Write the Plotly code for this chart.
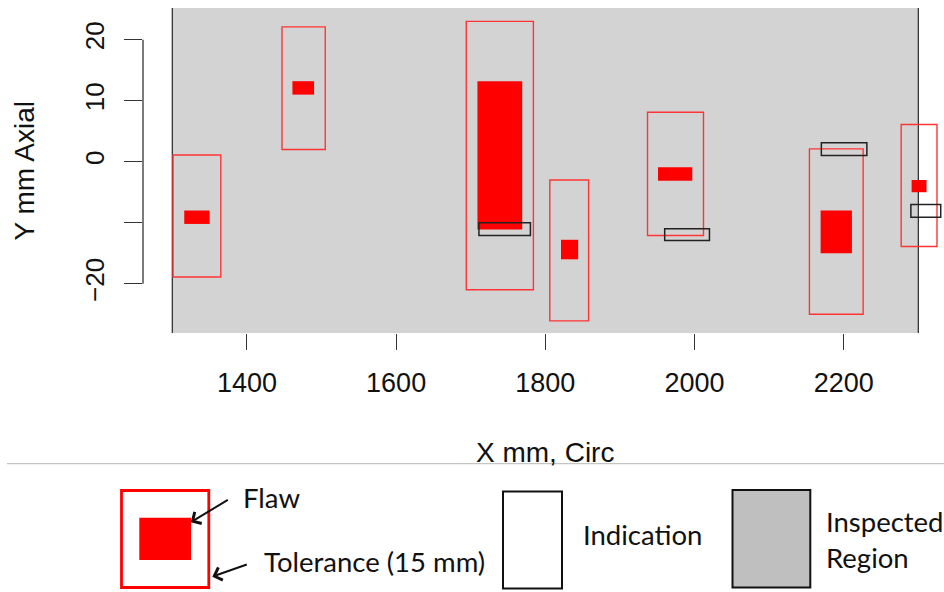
import plotly.graph_objects as go

# Inspected region along the circumference (mm)
region_x = [1300, 2300]

# Flaws (mm): circumferential extent x0..x1, axial extent y0..y1
flaw_x0 = [1316, 1461, 1709, 1821, 1951, 2169, 2291]
flaw_x1 = [1350, 1490, 1769, 1844, 1997, 2211, 2311]
flaw_y0 = [-10.2, 11.0, -11.1, -16.0, -3.1, -15.0, -5.0]
flaw_y1 = [-8.0, 13.2, 13.2, -12.8, -0.9, -8.0, -3.0]

# Tolerance windows around each flaw (mm)
tol_x0 = [1301, 1447, 1694, 1806, 1937, 2154, 2277]
tol_x1 = [1365, 1505, 1784, 1858, 2012, 2226, 2325]
tol_y0 = [-18.9, 2.0, -21.0, -26.1, -12.1, -25.0, -13.9]
tol_y1 = [1.1, 22.1, 23.0, -3.0, 8.1, 2.1, 6.1]

# Reported indications (mm)
ind_x0 = [1711, 1960, 2170, 2290]
ind_x1 = [1780, 2020, 2231, 2330]
ind_y0 = [-12.1, -12.9, 1.0, -9.1]
ind_y1 = [-10.0, -11.0, 3.1, -7.0]

x_ticks = [1400, 1600, 1800, 2000, 2200]
y_ticks = [-20, -10, 0, 10, 20]
y_tick_text = ["\u221220", "", "0", "10", "20"]

# Page geometry (pixels)
W, H = 944, 592
ML, MT, MB = 143, 8, 259
PW, PH = W - ML, H - MT - MB


def px_x(p):
    return (p - ML) / PW


def px_y(p):
    return (MT + PH - p) / PH


AX_FONT = "Liberation Sans, Arial, sans-serif"
LEG_FONT = "Lato, Calibri, sans-serif"
AX_COL = "#333333"

shapes = []

# Inspected region: grey band with dark edges
shapes.append(dict(type="rect", xref="x", yref="paper", x0=region_x[0], x1=region_x[1],
                   y0=0, y1=1, fillcolor="#D3D3D3", line=dict(width=0), layer="below"))
for xv in region_x:
    shapes.append(dict(type="line", xref="x", yref="paper", x0=xv, x1=xv, y0=0, y1=1,
                       line=dict(color=AX_COL, width=1.3)))

# Tolerance windows
for a, b, c, d in zip(tol_x0, tol_x1, tol_y0, tol_y1):
    shapes.append(dict(type="rect", xref="x", yref="y", x0=a, x1=b, y0=c, y1=d,
                       fillcolor="rgba(0,0,0,0)", line=dict(color="#FF3535", width=1.4)))

# Flaws
for a, b, c, d in zip(flaw_x0, flaw_x1, flaw_y0, flaw_y1):
    shapes.append(dict(type="rect", xref="x", yref="y", x0=a, x1=b, y0=c, y1=d,
                       fillcolor="#FF0000", line=dict(width=0)))

# Indications
for a, b, c, d in zip(ind_x0, ind_x1, ind_y0, ind_y1):
    shapes.append(dict(type="rect", xref="x", yref="y", x0=a, x1=b, y0=c, y1=d,
                       fillcolor="rgba(0,0,0,0)", line=dict(color="#222222", width=1.5)))

# y axis line spanning only the labelled ticks
shapes.append(dict(type="line", xref="paper", yref="y", x0=0, x1=0,
                   y0=y_ticks[0], y1=y_ticks[-1], line=dict(color=AX_COL, width=1.3)))

# Separator between plot and key
shapes.append(dict(type="line", xref="paper", yref="paper", x0=px_x(7), x1=px_x(944),
                   y0=px_y(463.7), y1=px_y(463.7), line=dict(color="#C4C4C4", width=1.2)))

# Key: tolerance box with flaw inside
shapes.append(dict(type="rect", xref="paper", yref="paper", x0=px_x(121.5), x1=px_x(208.8),
                   y0=px_y(587.5), y1=px_y(490.5), fillcolor="white",
                   line=dict(color="#FF0000", width=2.8)))
shapes.append(dict(type="rect", xref="paper", yref="paper", x0=px_x(139.3), x1=px_x(191),
                   y0=px_y(560), y1=px_y(517.7), fillcolor="#FF0000", line=dict(width=0)))
# Key: indication
shapes.append(dict(type="rect", xref="paper", yref="paper", x0=px_x(503), x1=px_x(562),
                   y0=px_y(588.5), y1=px_y(491.5), fillcolor="white",
                   line=dict(color="#111111", width=2)))
# Key: inspected region
shapes.append(dict(type="rect", xref="paper", yref="paper", x0=px_x(732.5), x1=px_x(810.3),
                   y0=px_y(587.5), y1=px_y(490), fillcolor="#BFBFBF",
                   line=dict(color="#111111", width=2)))

annotations = []

# Axis titles
annotations.append(dict(text="X mm, Circ", xref="paper", yref="paper", x=px_x(545),
                        y=px_y(452), xanchor="center", yanchor="middle", showarrow=False,
                        font=dict(family=AX_FONT, size=28, color="#111111")))
annotations.append(dict(text="Y mm Axial", xref="paper", yref="paper", x=px_x(24),
                        y=0.5, xanchor="center", yanchor="middle", textangle=-90,
                        showarrow=False, font=dict(family=AX_FONT, size=28, color="#111111")))


def key_text(txt, left, cap_mid):
    annotations.append(dict(text=txt, xref="paper", yref="paper", x=px_x(left - 1),
                            y=px_y(cap_mid - 2), xanchor="left", yanchor="middle",
                            showarrow=False, font=dict(family=LEG_FONT, size=27.5, color="#111111")))


key_text("Flaw", 242, 499.5)
key_text("Tolerance (15 mm)", 263, 563)
key_text("Indication", 581.7, 536.7)
key_text("Inspected", 825, 523)
key_text("Region", 825, 559.5)

# Key arrows
for tip, tail in [((190.7, 522.3), (229.3, 499)), ((212.3, 576.7), (248.3, 564))]:
    annotations.append(dict(text="", xref="paper", yref="paper", x=px_x(tip[0]), y=px_y(tip[1]),
                            ax=tail[0] - tip[0], ay=tail[1] - tip[1], showarrow=True,
                            arrowhead=4, arrowsize=1.3, arrowwidth=2, arrowcolor="#111111"))

fig = go.Figure()
fig.update_layout(
    width=W, height=H, autosize=False,
    margin=dict(l=ML, r=0, t=MT, b=MB, pad=0),
    paper_bgcolor="white", plot_bgcolor="white",
    showlegend=False,
    shapes=shapes, annotations=annotations,
    xaxis=dict(range=[1260.7, 2334.4], showgrid=False, zeroline=False, showline=False,
               tickmode="array", tickvals=x_ticks, ticks="outside", ticklen=16,
               tickwidth=1.3, tickcolor=AX_COL, ticklabelstandoff=10,
               tickfont=dict(family=AX_FONT, size=27, color="#111111")),
    yaxis=dict(range=[-28.08, 25.2], showgrid=False, zeroline=False, showline=False,
               tickmode="array", tickvals=y_ticks, ticktext=y_tick_text, ticks="outside",
               ticklen=18, tickwidth=1.3, tickcolor=AX_COL, tickangle=-90,
               ticklabelstandoff=10,
               tickfont=dict(family=AX_FONT, size=26, color="#111111")),
)

fig.write_html("out.html")
